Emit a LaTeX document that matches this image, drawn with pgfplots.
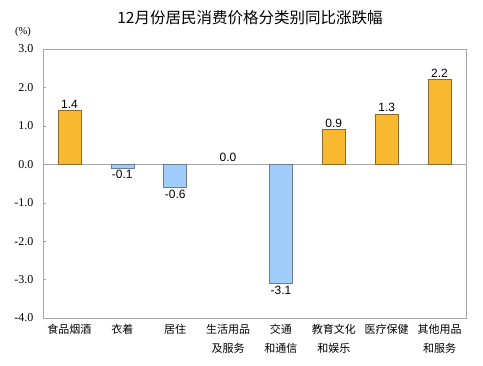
\documentclass[border=0pt]{standalone}
\usepackage{fontspec}
\setmainfont{Liberation Serif}
\newfontfamily\cjk{Noto Sans CJK SC}
\newfontfamily\arial{Liberation Sans}
\usepackage{pgfplots}
\pgfplotsset{compat=1.18}
\definecolor{barO}{RGB}{248,184,48}
\definecolor{barOe}{RGB}{140,105,45}
\definecolor{barB}{RGB}{160,205,250}
\definecolor{barBe}{RGB}{105,125,150}
\definecolor{frame}{RGB}{165,165,165}
\begin{document}
\begin{tikzpicture}[x=1pt,y=1pt]
\useasboundingbox (0,0) rectangle (483,365);
\node[font=\cjk\fontsize{15.5}{18}\selectfont] at (250,347) {12月份居民消费价格分类别同比涨跌幅};
\node[font=\fontsize{10.5}{12}\selectfont] at (23,333) {(\%)};
\begin{axis}[at={(43pt,47pt)}, anchor=south west, scale only axis,
  width=423pt, height=269pt,
  xmin=-0.5, xmax=7.5, ymin=-4, ymax=3,
  axis line style={frame},
  xtick={0,...,7},
  xticklabels={{食品烟酒},{衣着},{居住},{生活用品\\及服务},{交通\\和通信},{教育文化\\和娱乐},{医疗保健},{其他用品\\和服务}},
  xticklabel style={font=\cjk\fontsize{11}{19}\selectfont, align=center},
  major x tick style={draw=none},
  xtick pos=bottom,
  ytick={-4,...,3},
  ytick pos=left,
  tick align=inside,
  major tick length=3pt,
  ytick style={frame},
  yticklabel style={font=\fontsize{12}{14}\selectfont, xshift=-6pt},
  yticklabel={\pgfmathprintnumber[fixed,zerofill,precision=1]{\tick}},
  /pgf/number format/assume math mode=true,
  extra y ticks={0}, extra y tick labels={},
  extra y tick style={grid=major, major grid style={frame, line width=0.8pt}, major tick length=0pt},
  ybar, bar width=23pt, bar shift=0pt,
  nodes near coords={\pgfmathprintnumber[fixed,zerofill,precision=1,assume math mode=true]{\pgfplotspointmeta}},
  nodes near coords align={vertical},
  every node near coord/.append style={font=\arial\fontsize{12}{14}\selectfont, inner sep=2pt},
  clip=false,
]
\addplot[fill=barO, draw=barOe, line width=0.6pt] coordinates {(0,1.4) (5,0.9) (6,1.3) (7,2.2)};
\addplot[fill=barB, draw=barBe, line width=0.6pt] coordinates {(1,-0.1) (2,-0.6) (4,-3.1)};
\addplot[fill=none, draw=none] coordinates {(3,0.0)};
\end{axis}
\end{tikzpicture}
\end{document}
